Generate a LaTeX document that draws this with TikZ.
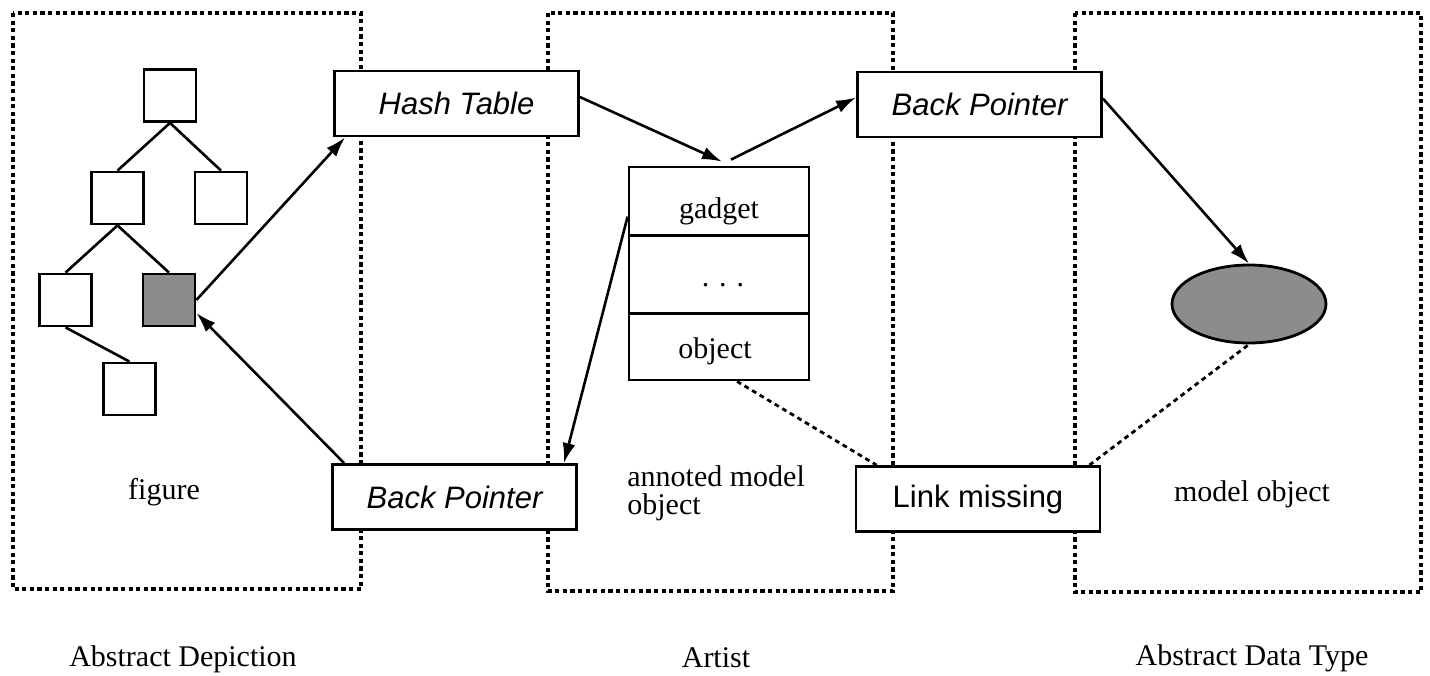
\documentclass[tikz,border=0pt]{standalone}
\usepackage{fontspec}
\setmainfont{Liberation Serif}
\newfontfamily\helv{Liberation Sans}
\usetikzlibrary{arrows.meta,calc,shapes.geometric}
\begin{document}
\begin{tikzpicture}[x=0.5pt,y=-0.5pt,
  font=\fontsize{15}{18}\selectfont,
  region/.style={draw, line width=1.9pt, dash pattern=on 2.1pt off 1.7pt},
  cell/.style={draw, line width=1.4pt, fill=white, minimum width=26pt,
    minimum height=26pt, inner sep=0pt},
  marked/.style={cell, fill=black!45},
  tag/.style={draw, line width=1.4pt, fill=white, minimum width=122pt,
    minimum height=32.5pt, inner sep=0pt, font=\helv\fontsize{15.5}{18}\selectfont},
  txt/.style={inner sep=0pt},
  edge/.style={line width=1.3pt},
  ptr/.style={line width=1.3pt, -{Latex[length=10pt,width=6.5pt]}},
  weak/.style={line width=1.4pt, dash pattern=on 2.4pt off 2pt}]

\useasboundingbox (0,0) rectangle (1430,675);

% the three regions
\draw[region] (13,13) rectangle (361,589);
\draw[region] (548,13) rectangle (893,591);
\draw[region] (1075,13) rectangle (1421,592);

% figure tree
\node[cell] (root) at (170,95.5) {};
\node[cell] (ml) at (117.5,198) {};
\node[cell] (mr) at (221,198) {};
\node[cell] (bl) at (65.5,300) {};
\node[marked] (sel) at (169,300) {};
\node[cell] (low) at (129.5,389) {};
\draw[edge] (root.south) -- (ml.north);
\draw[edge] (root.south) -- (mr.north);
\draw[edge] (ml.south) -- (bl.north);
\draw[edge] (ml.south) -- (sel.north);
\draw[edge] (bl.south) -- (low.north);

% pointer boxes
\node[tag] (ht) at (456.5,103.5) {\itshape Hash Table};
\node[tag] (bp1) at (979.5,104.5) {\itshape Back Pointer};
\node[tag] (bp2) at (454.5,497) {\itshape Back Pointer};
\node[tag] (lm) at (978,499) {Link missing};

% annotated record
\node[draw, line width=1.4pt, fill=white, minimum width=90pt,
  minimum height=106.5pt, inner sep=0pt] (rec) at (719,273.5) {};
\draw[line width=1.4pt] ($(rec.north west)+(0,70)$) -- ($(rec.north east)+(-2,70)$);
\draw[line width=1.4pt] ($(rec.north west)+(0,148)$) -- ($(rec.north east)+(-2,148)$);
\node[txt] (gad) at (719,211) {gadget};
\node[txt, anchor=base] (dots) at (723,286) {.\hspace{5pt}.\hspace{5pt}.};
\node[txt] (obj) at (715,351) {object};

% model object
\node[ellipse, draw, line width=1.4pt, fill=black!45, minimum width=77pt,
  minimum height=39pt, inner sep=0pt] (ell) at (1249,304) {};

% connectors
\draw[ptr] (sel.east) -- ($(ht.south west)+(12,0)$);
\draw[ptr] ($(bp2.north west)+(13,0)$) -- ($(sel.east)+(0,13)$);
\draw[ptr] ($(ht.east)+(0,-6.5)$) -- ($(rec.north)+(3,-4)$);
\draw[ptr] ($(rec.north)+(12,-6)$) -- ($(bp1.west)+(0,-7)$);
\draw[ptr] ($(bp1.east)+(0,-6)$) -- (ell.north);
\draw[ptr] ($(rec.north west)+(0,51)$) -- ($(bp2.north east)+(-14,0)$);
\draw[weak] ($(rec.south)+(18,0)$) -- ($(lm.north west)+(22,0)$);
\draw[weak] ($(lm.north east)+(-12,0)$) -- (ell.south);

% captions
\node[txt, anchor=base] (figlbl) at (164,499) {figure};
\node[txt, anchor=west, align=left, font=\fontsize{15}{14}\selectfont]
  (annlbl) at (627,493) {annoted model\\object};
\node[txt, anchor=base] (modlbl) at (1252,501) {model object};
\node[txt, anchor=base] (cap1) at (183,666) {Abstract Depiction};
\node[txt, anchor=base] (cap2) at (716,667) {Artist};
\node[txt, anchor=base] (cap3) at (1252,665) {Abstract Data Type};
\end{tikzpicture}
\end{document}
